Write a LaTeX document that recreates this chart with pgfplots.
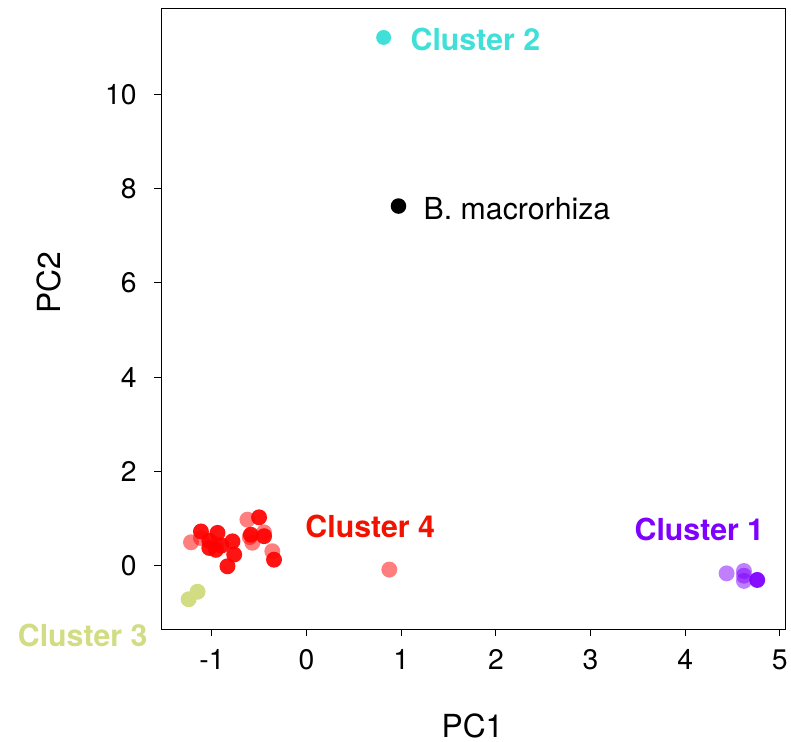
\documentclass[border=0pt]{standalone}
\usepackage{fontspec}
\setmainfont{TeX Gyre Heros}
\usepackage{pgfplots}
\pgfplotsset{compat=1.18}
\definecolor{cpurple}{HTML}{7F00FF}
\definecolor{cturq}{HTML}{40E0D8}
\definecolor{cred}{HTML}{FF0000}
\definecolor{ctxtred}{HTML}{F21200}
\definecolor{cyel}{HTML}{D2DC82}
\begin{document}
\begin{tikzpicture}
\begin{axis}[
  width=626.3bp, height=623.4bp, scale only axis,
  xmin=-1.537, xmax=5.056, ymin=-1.36, ymax=11.83,
  axis line style={line width=1.1bp},
  tick align=outside, major tick length=7bp,
  tick style={black, line width=0.9bp},
  xtick={-1,0,1,2,3,4,5}, xticklabels={-1,0,1,2,3,4,5},
  ytick={0,2,4,6,8,10}, yticklabels={0,2,4,6,8,10},
  xtick pos=lower, ytick pos=left,
  ticklabel style={font=\fontsize{28.5}{32}\selectfont},
  xticklabel style={yshift=-10bp},
  yticklabel style={xshift=-14bp},
  clip=false,
  every axis plot/.append style={only marks, mark=*, mark size=8bp, draw=none},
]
% bounding box
\path ([shift={(-161.7bp,-112.3bp)}]rel axis cs:0,0) rectangle ([shift={(3bp,8.3bp)}]rel axis cs:1,1);
% axis labels
\node[font=\fontsize{32}{36}\selectfont, inner sep=0pt] at ([yshift=-97bp]rel axis cs:0.499,0) {PC1};
\node[font=\fontsize{32}{36}\selectfont, rotate=90, inner sep=0pt] at ([xshift=-112.2bp]rel axis cs:0,0.558) {PC2};

% Cluster 4 (red), faded points
\addplot[mark options={draw opacity=0, fill=cred, fill opacity=0.5}] coordinates {
(-1.221,0.49) (-0.625,0.97) (-0.573,0.48) (-0.362,0.30) (0.874,-0.09)
(-1.116,0.58) (-0.958,0.45) (-0.60,0.60) (-0.45,0.70)
};
% Cluster 4 (red), solid points
\addplot[mark options={draw opacity=0, fill=cred, fill opacity=0.92}] coordinates {
(-1.116,0.72) (-1.028,0.52) (-0.941,0.69) (-0.958,0.33) (-1.028,0.37)
(-0.783,0.51) (-0.765,0.23) (-0.836,-0.02) (-0.502,1.02) (-0.589,0.65)
(-0.449,0.62) (-0.344,0.12) (-0.90,0.42)
};
% Cluster 1 (purple)
\addplot[mark options={draw opacity=0, fill=cpurple, fill opacity=0.5}] coordinates {
(4.438,-0.17) (4.621,-0.12) (4.621,-0.33) (4.621,-0.22)
};
\addplot[mark options={draw opacity=0, fill=cpurple, fill opacity=0.95}] coordinates {
(4.761,-0.31)
};
% Cluster 3 (yellow-green)
\addplot[mark options={draw opacity=0, fill=cyel}] coordinates {
(-1.152,-0.56) (-1.246,-0.72)
};
% Cluster 2 (turquoise)
\addplot[mark options={draw opacity=0, fill=cturq}, mark size=7.5bp] coordinates {
(0.814,11.21)
};
% B. macrorhiza
\addplot[mark options={draw opacity=0, fill=black}, mark size=7.8bp] coordinates {
(0.971,7.63)
};

% labels
\node[anchor=west, text=cturq, font=\bfseries\fontsize{30.5}{34}\selectfont, inner sep=0pt] at (axis cs:1.098,11.16) {Cluster 2};
\node[anchor=west, text=black, font=\fontsize{30.5}{34}\selectfont, inner sep=0pt] at (axis cs:1.235,7.57) {B. macrorhiza};
\node[text=ctxtred, font=\bfseries\fontsize{30.5}{34}\selectfont, inner sep=0pt] at (axis cs:0.672,0.836) {Cluster 4};
\node[text=cpurple, font=\bfseries\fontsize{30.5}{34}\selectfont, inner sep=0pt] at (axis cs:4.15,0.758) {Cluster 1};
\node[text=cyel, font=\bfseries\fontsize{30.5}{34}\selectfont, inner sep=0pt] at (axis cs:-2.366,-1.49) {Cluster 3};
\end{axis}
\end{tikzpicture}
\end{document}
